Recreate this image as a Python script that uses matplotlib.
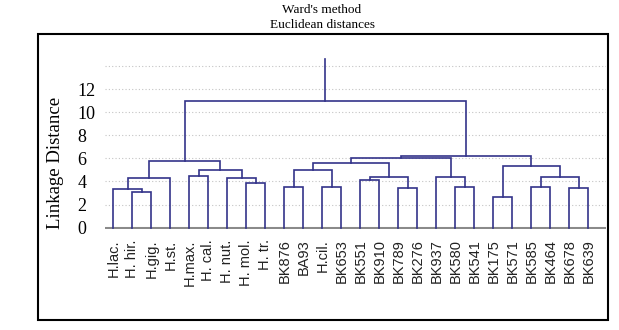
import matplotlib.pyplot as plt
import matplotlib.patches as patches
import numpy as np

# leaf labels in dendrogram order
labels = ["H.lac.", "H. hir.", "H.gig.", "H.st.", "H.max.", "H. cal.", "H. nut.",
          "H. mol.", "H. tr.", "BK876", "BA93", "H.cil.", "BK653", "BK551",
          "BK910", "BK789", "BK276", "BK937", "BK580", "BK541", "BK175",
          "BK571", "BK585", "BK464", "BK678", "BK639"]

# merges: (left node, right node, linkage distance); new node id = 26 + row
merge_left = [1, 0, 27, 4, 7, 6, 29, 28, 9, 11, 34, 13, 15, 37, 36, 18, 17, 40,
              20, 22, 24, 45, 44, 43, 33]
merge_right = [2, 26, 3, 5, 8, 30, 31, 32, 10, 12, 35, 14, 16, 38, 39, 19, 41, 42,
               21, 23, 25, 46, 47, 48, 49]
merge_height = [3.06, 3.32, 4.27, 4.47, 3.84, 4.32, 4.99, 5.79, 3.49, 3.54, 4.99,
                4.12, 3.45, 4.41, 5.62, 3.54, 4.41, 6.00, 2.68, 3.54, 3.45, 4.41,
                5.36, 6.17, 11.0]
root_top = 14.57

yticks = [0, 2, 4, 6, 8, 10, 12]
grid_levels = [2, 4, 6, 8, 10, 12, 14]

W, H = 619, 330
fig = plt.figure(figsize=(W / 100, H / 100), dpi=100)
ax = fig.add_axes([105 / W, 1 - 229 / H, 501 / W, (229 - 54.4) / H])

line_col = '#33338a'
n = len(labels)
xpos = {i: float(i) for i in range(n)}
ypos = {i: 0.0 for i in range(n)}

for g in grid_levels:
    ax.axhline(g, color='#c4c4c4', lw=0.8, ls=(0, (1, 2)), zorder=0)
ax.axhline(0, color='#8a8a8a', lw=2.2, zorder=1)

for k, (a, b, h) in enumerate(zip(merge_left, merge_right, merge_height)):
    xa, xb = xpos[a], xpos[b]
    ax.plot([xa, xa, xb, xb], [ypos[a], h, h, ypos[b]], color=line_col, lw=1.2,
            solid_joinstyle='miter', zorder=2)
    xpos[n + k] = (xa + xb) / 2
    ypos[n + k] = h

top = n + len(merge_height) - 1
ax.plot([xpos[top], xpos[top]], [ypos[top], root_top], color=line_col, lw=1.2, zorder=2)

ax.set_xlim(-0.44, 25.93)
ax.set_ylim(-0.12, 15)
ax.set_xticks(range(n))
ax.set_xticklabels(labels, rotation=90, fontsize=10.5, family='Liberation Sans',
                   color='#222222', va='top', ha='center')
ax.set_yticks(yticks)
ax.set_yticklabels([str(v) for v in yticks], fontsize=13, family='Liberation Serif')
for lab in ax.get_yticklabels():
    lab.set_horizontalalignment('left')
ax.tick_params(axis='y', length=0, pad=20)
ax.tick_params(axis='x', length=0, pad=7.5)
for s in ax.spines.values():
    s.set_visible(False)

fig.text(55 / W, 1 - 163 / H, "Linkage Distance", rotation=90, ha='center', va='center',
         fontsize=13.5, family='Liberation Serif')
fig.text(322 / W, 1 - 10 / H, "Ward's method", ha='center', va='center',
         fontsize=9.5, family='Liberation Serif')
fig.text(322 / W, 1 - 25 / H, "Euclidean distances", ha='center', va='center',
         fontsize=9.5, family='Liberation Serif')

fig.patches.append(patches.Rectangle((38.3 / W, 1 - 320 / H), 570 / W, (320 - 34.3) / H,
                                     transform=fig.transFigure, fill=False,
                                     edgecolor='black', lw=1.5))

fig.savefig('out.png', dpi=100)
